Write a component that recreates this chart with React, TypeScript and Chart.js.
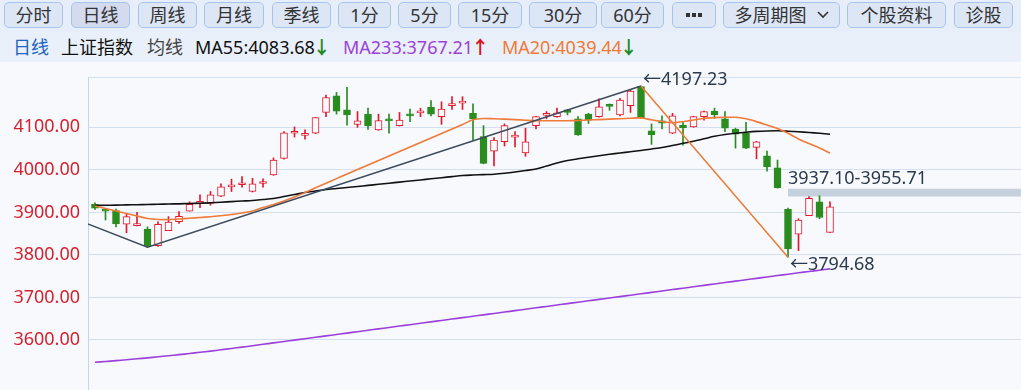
import React, { useEffect, useRef } from "react";
import { Chart, registerables } from "chart.js";

Chart.register(...registerables);

// ---------- DATA ----------
const OPEN = [
  3919, 3906, 3904, 3872, 3869, 3861, 3822, 3857, 3878, 3903,
  3921, 3921, 3938, 3960, 3965, 3949, 3968, 3988, 4027, 4086,
  4081, 4086, 4135, 4174, 4141, 4107, 4131, 4094, 4118, 4104,
  4130, 4134, 4147, 4125, 4151, 4157, 4133, 4078, 4044, 4066,
  4077, 4040, 4104, 4128, 4125, 4141, 4120, 4131, 4125, 4154,
  4129, 4151, 4195.5, 4092, 4115, 4086, 4105, 4101, 4125, 4138,
  4120, 4096, 4086, 4053, 4033, 4005, 3907, 3849, 3892, 3925,
  3853,
];
const HIGH = [
  3922.7, 3907, 3908, 3896, 3900, 3866, 3878, 3890, 3902, 3925,
  3941, 3949, 3967, 3978, 3984, 3980, 3979, 4028, 4090, 4101,
  4094, 4123, 4176, 4182, 4194, 4137, 4145, 4131, 4131, 4135,
  4143, 4145, 4163, 4160, 4172, 4172, 4155, 4104, 4076, 4108,
  4090, 4098, 4126, 4137, 4145, 4142, 4125, 4133, 4167, 4155,
  4168, 4188, 4197.23, 4108, 4127, 4133, 4113, 4126, 4138, 4145,
  4137, 4098, 4112, 4067, 4044, 4023, 3910, 3885, 3937, 3939,
  3925,
];
const LOW = [
  3907, 3882, 3866, 3852, 3868, 3818, 3820, 3857, 3874, 3903,
  3911, 3917, 3937, 3949, 3959, 3948, 3959, 3987, 4025, 4077,
  4072, 4085, 4125, 4131, 4105, 4100, 4095, 4093, 4086, 4103,
  4113, 4125, 4127, 4107, 4142, 4142, 4070, 4014, 4009, 4056,
  4054, 4032, 4096, 4120, 4124, 4129, 4081, 4109, 4124, 4140,
  4127, 4135, 4121, 4060, 4096, 4085, 4058, 4100, 4117, 4121,
  4090, 4051, 4050, 4026, 3997, 3957, 3794.68, 3810, 3892, 3885,
  3853,
];
const CLOSE = [
  3910, 3903, 3873, 3890, 3871, 3822, 3872, 3877, 3891, 3919,
  3923, 3941, 3960, 3964, 3968, 3967, 3970, 4023, 4087, 4089,
  4084, 4122.6, 4170, 4138, 4129, 4115, 4103, 4116, 4115, 4117,
  4127, 4137, 4131, 4143, 4154, 4160, 4120, 4015.4, 4070, 4104,
  4080, 4066, 4125, 4131, 4134, 4135, 4082, 4117, 4148, 4149,
  4164, 4185, 4122.6, 4083, 4110, 4127, 4099, 4125, 4137, 4129,
  4098, 4084, 4051, 4066, 4007, 3958, 3814, 3882, 3933, 3888,
  3913,
];
const MA55 = [
  3916.2, 3916.6, 3917.1, 3917.6, 3918.0, 3918.5, 3919.0, 3919.7, 3920.1, 3920.9,
  3921.3, 3922.5, 3923.9, 3925.3, 3926.7, 3927.9, 3930.2, 3932.6, 3937.3, 3942.0,
  3946.7, 3950.2, 3953.7, 3956.1, 3958.5, 3960.8, 3963.4, 3966.0, 3968.6, 3971.2,
  3973.7, 3976.3, 3978.9, 3981.5, 3984.1, 3986.7, 3987.9, 3988.8, 3989.7, 3991.9,
  3994.9, 3998.4, 4002.0, 4009.0, 4016.1, 4022.0, 4026.0, 4029.7, 4033.0, 4036.5,
  4039.6, 4042.6, 4045.5, 4049.0, 4052.5, 4057.2, 4062.4, 4067.3, 4073.0, 4078.8,
  4083.1, 4086.1, 4088.5, 4090.4, 4091.5, 4091.8, 4090.8, 4089.4, 4087.8, 4085.9,
  4083.68,
];
const MA20 = [
  3915.0, 3909.1, 3903.2, 3897.3, 3891.5, 3885.6, 3883.2, 3883.2, 3884.4, 3886.1,
  3887.9, 3889.8, 3891.9, 3895.0, 3898.5, 3903.2, 3911.5, 3918.5, 3926.7, 3936.1,
  3946.7, 3957.8, 3968.6, 3979.4, 3990.2, 4000.8, 4011.4, 4021.9, 4032.5, 4043.1,
  4053.7, 4064.3, 4074.8, 4085.4, 4096.0, 4106.6, 4117.6, 4120.7, 4120.0, 4119.3,
  4118.1, 4116.7, 4115.5, 4115.3, 4115.3, 4115.5, 4116.2, 4117.2, 4118.1, 4119.3,
  4120.2, 4121.2, 4122.1, 4117.6, 4113.6, 4111.0, 4113.2, 4117.2, 4121.2, 4122.8,
  4123.5, 4123.5, 4120.0, 4113.4, 4105.4, 4097.2, 4085.9, 4072.5, 4061.7, 4051.3,
  4039.44,
];
const MA233 = [
  3547.5, 3549.4, 3551.4, 3553.5, 3555.7, 3558.0, 3560.4, 3562.9, 3565.5, 3568.2,
  3571.0, 3573.9, 3576.9, 3580.0, 3583.2, 3586.5, 3589.8, 3593.1, 3596.4, 3599.7,
  3603.0, 3606.3, 3609.6, 3612.9, 3616.2, 3619.5, 3622.8, 3626.1, 3629.4, 3632.7,
  3636.0, 3639.3, 3642.6, 3645.9, 3649.2, 3652.5, 3655.8, 3659.1, 3662.4, 3665.7,
  3669.0, 3672.3, 3675.6, 3678.9, 3682.2, 3685.5, 3688.8, 3692.1, 3695.4, 3698.7,
  3702.0, 3705.3, 3708.6, 3711.9, 3715.2, 3718.5, 3721.8, 3725.1, 3728.4, 3731.7,
  3735.0, 3738.3, 3741.6, 3744.9, 3748.2, 3751.5, 3754.7, 3757.9, 3761.0, 3764.1,
  3767.21,
];
// zig-zag wave points (index, value)
const WAVE_X = [-3, 5, 52];
const WAVE_Y = [3895, 3818, 4197.23];
const LAST_WAVE_X = [52, 66];
const LAST_WAVE_Y = [4197.23, 3794.68];
// gap zone
const GAP_FROM = 66;
const GAP_TO = 95;
const GAP_LOW = 3937.1;
const GAP_HIGH = 3955.71;
const PEAK_IDX = 52;
const PEAK_VAL = 4197.23;
const TROUGH_IDX = 66;
const TROUGH_VAL = 3794.68;
const Y_TICKS = [3600, 3700, 3800, 3900, 4000, 4100];
const Y_MIN = 3482.4;
const Y_MAX = 4218.3;
const X_MIN = -0.667;
const X_MAX = 88.19;

const BUTTONS = [
  { t: "分时", x: 4, w: 59 },
  { t: "日线", x: 71, w: 59, sel: true },
  { t: "周线", x: 138, w: 59 },
  { t: "月线", x: 204, w: 60 },
  { t: "季线", x: 272, w: 59 },
  { t: "1分", x: 338, w: 53 },
  { t: "5分", x: 398, w: 53 },
  { t: "15分", x: 458, w: 64 },
  { t: "30分", x: 529, w: 68 },
  { t: "60分", x: 601, w: 63 },
  { t: "DOTS", x: 672, w: 44 },
  { t: "多周期图", x: 723, w: 117, chevron: true },
  { t: "个股资料", x: 847, w: 99 },
  { t: "诊股", x: 954, w: 59 },
];

const RED = "#e3192b";
const GREEN = "#2a8c1f";
const BG = "#f7f9fd";
const FONT = '"Noto Sans", "Noto Sans CJK SC", "DejaVu Sans", sans-serif';

const idx = OPEN.map((_, i) => i);
const isUp = (i: number) => CLOSE[i] >= OPEN[i];

const annotPlugin = {
  id: "annot",
  afterDatasetsDraw(chart: any) {
    const { ctx, scales } = chart;
    const x = scales.x;
    const y = scales.y;
    ctx.save();
    ctx.font = `18px ${FONT}`;
    ctx.fillStyle = "#2b394c";
    ctx.textAlign = "left";
    ctx.textBaseline = "alphabetic";
    ctx.fillText("←" + PEAK_VAL.toFixed(2), x.getPixelForValue(PEAK_IDX) + 2, y.getPixelForValue(PEAK_VAL) - 1);
    ctx.fillText("←" + TROUGH_VAL.toFixed(2), x.getPixelForValue(TROUGH_IDX) + 2, y.getPixelForValue(TROUGH_VAL) + 13);
    ctx.fillText(
      GAP_LOW.toFixed(2) + "-" + GAP_HIGH.toFixed(2),
      x.getPixelForValue(GAP_FROM),
      y.getPixelForValue(GAP_HIGH) - 5
    );
    ctx.restore();
  },
};

function ChartView() {
  const ref = useRef<HTMLCanvasElement | null>(null);
  useEffect(() => {
    if (!ref.current) return;
    const line = (data: number[], color: string, order: number) => ({
      type: "line" as const,
      data: idx.map((i) => ({ x: i, y: data[i] })),
      borderColor: color,
      borderWidth: 1.6,
      pointRadius: 0,
      tension: 0.3,
      order,
    });
    const chart = new Chart(ref.current, {
      type: "bar",
      data: {
        datasets: [
          {
            type: "line",
            data: [
              { x: GAP_FROM, y: GAP_HIGH },
              { x: GAP_TO, y: GAP_HIGH },
            ],
            borderWidth: 0,
            borderColor: "rgba(0,0,0,0)",
            pointRadius: 0,
            fill: "+1",
            backgroundColor: "#c6d1de",
            order: 12,
          } as any,
          {
            type: "line",
            data: [
              { x: GAP_FROM, y: GAP_LOW },
              { x: GAP_TO, y: GAP_LOW },
            ],
            borderWidth: 0,
            borderColor: "rgba(0,0,0,0)",
            pointRadius: 0,
            fill: false,
            order: 11,
          } as any,
          {
            type: "bar",
            data: idx.map((i) => ({ x: i, y: [LOW[i], HIGH[i]] })),
            backgroundColor: (c: any) => (isUp(c.dataIndex) ? RED : GREEN),
            barThickness: 1,
            grouped: false,
            borderWidth: 0,
            order: 10,
          } as any,
          {
            type: "bar",
            data: idx.map((i) => ({ x: i, y: [OPEN[i], CLOSE[i]] })),
            backgroundColor: (c: any) => (isUp(c.dataIndex) ? BG : GREEN),
            borderColor: (c: any) => (isUp(c.dataIndex) ? RED : GREEN),
            borderWidth: 1,
            borderSkipped: false,
            barThickness: 7,
            minBarLength: 2,
            grouped: false,
            order: 9,
          } as any,
          line(MA233, "#9b40da", 4) as any,
          line(MA55, "#111111", 3) as any,
          line(MA20, "#f07a38", 2) as any,
          {
            type: "line",
            data: WAVE_X.map((v, i) => ({ x: v, y: WAVE_Y[i] })),
            borderColor: "#3d4a5c",
            borderWidth: 1.5,
            pointRadius: 0,
            tension: 0,
            order: 1,
          } as any,
          {
            type: "line",
            data: LAST_WAVE_X.map((v, i) => ({ x: v, y: LAST_WAVE_Y[i] })),
            borderColor: "#ee7a33",
            borderWidth: 1.5,
            pointRadius: 0,
            tension: 0,
            order: 0,
          } as any,
        ],
      },
      options: {
        animation: false,
        responsive: false,
        maintainAspectRatio: false,
        layout: { padding: { top: 15, left: 0, right: 0, bottom: 0 } },
        plugins: { legend: { display: false }, tooltip: { enabled: false } },
        scales: {
          x: {
            type: "linear",
            min: X_MIN,
            max: X_MAX,
            display: false,
            offset: false,
            bounds: "data",
            grid: { offset: false },
          },
          y: {
            type: "linear",
            min: Y_MIN,
            max: Y_MAX,
            position: "left",
            afterFit: (s: any) => {
              s.width = 88;
              s.paddingTop = 0;
              s.paddingBottom = 0;
            },
            afterBuildTicks: (s: any) => {
              s.ticks = [...Y_TICKS, Y_MAX].map((v) => ({ value: v }));
            },
            ticks: {
              callback: (v: any) => (Y_TICKS.includes(Number(v)) ? Number(v).toFixed(2) : ""),
              color: "#d4232f",
              font: { family: FONT, size: 18 },
              padding: 8,
            },
            grid: { color: "#d3e0f1", drawTicks: false, lineWidth: 1 },
            border: { display: true, color: "#c9d6e8", width: 1 },
          },
        },
      },
      plugins: [annotPlugin],
    } as any);
    return () => chart.destroy();
  }, []);
  return (
    <canvas
      ref={ref}
      width={1021}
      height={328}
      style={{ position: "absolute", left: 0, top: 62, width: 1021, height: 328 }}
    />
  );
}

export default function App() {
  const legendItem = (left: number, text: string, color: string, arrow?: string, arrowColor?: string) => (
    <span style={{ position: "absolute", left, top: 0, color, whiteSpace: "nowrap" }}>
      {text}
      {arrow ? (
        <span style={{ color: arrowColor, fontWeight: "bold", marginLeft: -2 }}>{arrow}</span>
      ) : null}
    </span>
  );
  return (
    <div
      style={{
        position: "fixed",
        left: 0,
        top: 0,
        width: 1021,
        height: 390,
        overflow: "hidden",
        background: BG,
        fontFamily: FONT,
      }}
    >
      <div style={{ position: "absolute", left: 0, top: 0, width: 1021, height: 32, background: "#e6eef9" }}>
        {BUTTONS.map((b) => (
          <div
            key={b.t}
            style={{
              position: "absolute",
              left: b.x,
              top: 2,
              width: b.w,
              height: 26,
              boxSizing: "border-box",
              border: "1.5px solid #a9c4ec",
              borderRadius: 5,
              background: b.sel ? "#d4dbef" : "#dde6f5",
              color: "#333",
              fontSize: 18,
              display: "flex",
              alignItems: "center",
              justifyContent: "center",
              lineHeight: "24px",
            }}
          >
            {b.t === "DOTS" ? (
              <svg width="16" height="4">
                <rect x="0" y="0" width="4" height="4" fill="#333" />
                <rect x="6" y="0" width="4" height="4" fill="#333" />
                <rect x="12" y="0" width="4" height="4" fill="#333" />
              </svg>
            ) : (
              <span>{b.t}</span>
            )}
            {b.chevron ? (
              <svg width="12" height="8" style={{ marginLeft: 10 }}>
                <polyline points="1,1 6,6 11,1" fill="none" stroke="#333" strokeWidth="1.6" />
              </svg>
            ) : null}
          </div>
        ))}
      </div>
      <div
        style={{
          position: "absolute",
          left: 0,
          top: 32,
          width: 1021,
          height: 30,
          background: "#e9f0f9",
          fontSize: 18,
          lineHeight: "30px",
        }}
      >
        {legendItem(13, "日线", "#1a64c2")}
        {legendItem(61, "上证指数", "#111")}
        {legendItem(147, "均线", "#444")}
        {legendItem(195, "MA55:4083.68", "#111", "↓", "#1f8a1f")}
        {legendItem(343, "MA233:3767.21", "#9b40da", "↑", "#e0101e")}
        {legendItem(502, "MA20:4039.44", "#f07a38", "↓", "#1f8a1f")}
      </div>
      <ChartView />
    </div>
  );
}
